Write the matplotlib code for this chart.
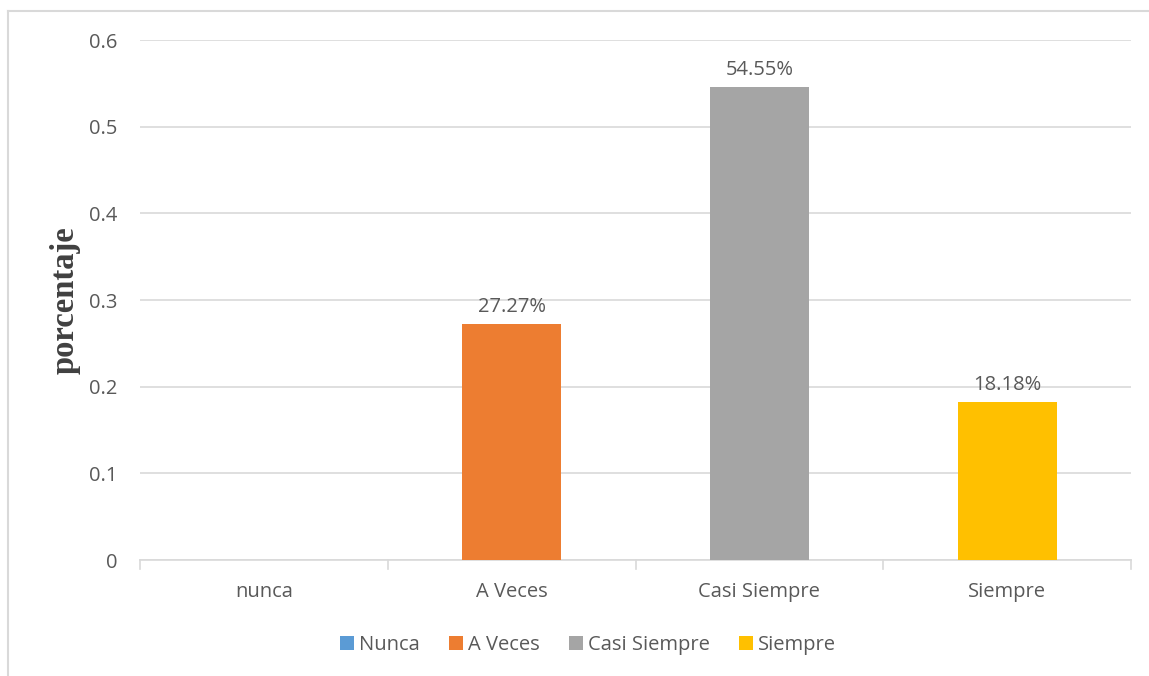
import matplotlib
matplotlib.use("Agg")
import matplotlib.pyplot as plt
from matplotlib.patches import Patch
from matplotlib.lines import Line2D

categories = ["nunca", "A Veces", "Casi Siempre", "Siempre"]
legend_names = ["Nunca", "A Veces", "Casi Siempre", "Siempre"]
values = [0.0, 0.2727, 0.5455, 0.1818]
labels = ["", "27.27%", "54.55%", "18.18%"]
colors = ["#5B9BD5", "#ED7D31", "#A5A5A5", "#FFC000"]
yticks = [0, 0.1, 0.2, 0.3, 0.4, 0.5, 0.6]
ytick_labels = ["0", "0.1", "0.2", "0.3", "0.4", "0.5", "0.6"]

plt.rcParams["font.family"] = ["Open Sans", "DejaVu Sans"]
txt = "#595959"
grid = "#D9D9D9"
fs = 14.5

fig = plt.figure(figsize=(11.49, 6.76), dpi=100)
ax = fig.add_axes([140/1149, 1-560/676, (1131-140)/1149, (560-40)/676])

x = list(range(len(categories)))
bars = ax.bar(x, values, width=0.4, color=colors, zorder=3)
for xi, v, lab in zip(x, values, labels):
    if lab:
        ax.annotate(lab, (xi, v), xytext=(0, 5), textcoords="offset points",
                    ha="center", va="bottom", fontsize=fs, color=txt)

ax.set_xlim(-0.5, len(categories) - 0.5)
ax.set_ylim(0, 0.6)
ax.set_yticks(yticks)
ax.set_yticklabels(ytick_labels, fontsize=fs, color=txt)
ax.set_xticks(x)
ax.set_xticklabels(categories, fontsize=fs, color=txt)
ax.tick_params(axis="y", length=0, pad=16)
ax.tick_params(axis="x", length=0, pad=16)
ax.yaxis.grid(True, color=grid, linewidth=1.2, zorder=0)
for s in ["top", "right", "left"]:
    ax.spines[s].set_visible(False)
ax.spines["bottom"].set_color(grid)
ax.spines["bottom"].set_linewidth(1.2)

# category boundary tick marks
for b in [-0.5, 0.5, 1.5, 2.5, 3.5]:
    ax.add_line(Line2D([b, b], [0, -0.01], color=grid, linewidth=1.2,
                       clip_on=False, transform=ax.transData))

ax.set_ylabel("porcentaje", fontsize=23.5, fontweight="bold",
              family=["Liberation Serif"], color="#404040", labelpad=6)

handles = [Patch(facecolor=c, edgecolor="none") for c in colors]
fig.legend(handles, legend_names, loc="center", bbox_to_anchor=(588/1149, 1-645/676),
           ncol=4, frameon=False, fontsize=fs, labelcolor=txt,
           handlelength=0.7, handleheight=0.7, handletextpad=0.25, columnspacing=1.45)

# outer chart border (left and top visible)
fig.add_artist(Line2D([8/1149, 8/1149], [0, 1-11/676], color=grid, linewidth=1.5,
                      transform=fig.transFigure))
fig.add_artist(Line2D([8/1149, 1], [1-11/676, 1-11/676], color=grid, linewidth=1.5,
                      transform=fig.transFigure))

fig.savefig("out.png", dpi=100, facecolor="white")
